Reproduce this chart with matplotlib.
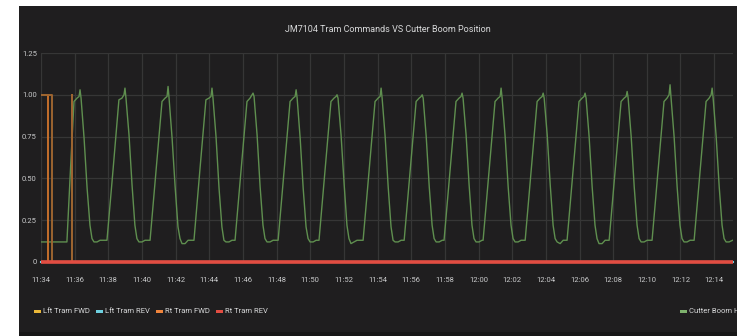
import numpy as np
import matplotlib
matplotlib.use("Agg")
import matplotlib.pyplot as plt
from matplotlib.patches import Rectangle

plt.rcParams['font.family'] = ['DejaVu Sans Condensed', 'Roboto', 'DejaVu Sans']

# time in minutes after 11:34
tick_minutes = [0, 2, 4, 6, 8, 10, 12, 14, 16, 18, 20, 22, 24, 26, 28, 30, 32, 34, 36, 38, 40]
tick_labels = ["11:34", "11:36", "11:38", "11:40", "11:42", "11:44", "11:46", "11:48", "11:50",
               "11:52", "11:54", "11:56", "11:58", "12:00", "12:02", "12:04", "12:06", "12:08",
               "12:10", "12:12", "12:14"]
y_ticks = [0, 0.25, 0.5, 0.75, 1.0, 1.25]
y_labels = ["0", "0.25", "0.50", "0.75", "1.00", "1.25"]

boom_t = [
    0.00, 0.50, 1.00, 1.54, 1.75, 1.96, 2.14, 2.26, 2.32, 2.38, 2.56, 2.74, 2.91, 3.03, 3.15, 3.33, 3.51,
    3.92, 4.28, 4.63, 4.81, 4.93, 4.99, 5.05, 5.23, 5.41, 5.58, 5.70, 5.82, 6.00, 6.18,
    6.48, 6.84, 7.19, 7.37, 7.49, 7.55, 7.61, 7.79, 7.97, 8.14, 8.26, 8.38, 8.56, 8.74,
    9.09, 9.45, 9.80, 9.98, 10.10, 10.16, 10.22, 10.40, 10.58, 10.75, 10.87, 10.99, 11.17, 11.35,
    11.53, 11.89, 12.24, 12.42, 12.54, 12.60, 12.66, 12.84, 13.02, 13.19, 13.31, 13.43, 13.61, 13.79,
    14.09, 14.45, 14.80, 14.98, 15.10, 15.16, 15.22, 15.40, 15.58, 15.75, 15.87, 15.99, 16.17, 16.35,
    16.52, 16.88, 17.23, 17.41, 17.53, 17.59, 17.65, 17.83, 18.01, 18.18, 18.30, 18.42, 18.60, 18.78,
    19.14, 19.50, 19.85, 20.03, 20.15, 20.21, 20.27, 20.45, 20.63, 20.80, 20.92, 21.04, 21.22, 21.40,
    21.58, 21.94, 22.29, 22.47, 22.59, 22.65, 22.71, 22.89, 23.07, 23.24, 23.36, 23.48, 23.66, 23.84,
    23.95, 24.31, 24.66, 24.84, 24.96, 25.02, 25.08, 25.26, 25.44, 25.61, 25.73, 25.85, 26.03, 26.21,
    26.27, 26.63, 26.98, 27.16, 27.28, 27.34, 27.40, 27.58, 27.76, 27.93, 28.05, 28.17, 28.35, 28.53,
    28.77, 29.13, 29.48, 29.66, 29.78, 29.84, 29.90, 30.08, 30.26, 30.43, 30.55, 30.67, 30.85, 31.03,
    31.26, 31.62, 31.97, 32.15, 32.27, 32.33, 32.39, 32.57, 32.75, 32.92, 33.04, 33.16, 33.34, 33.52,
    33.76, 34.12, 34.47, 34.65, 34.77, 34.83, 34.89, 35.07, 35.25, 35.42, 35.54, 35.66, 35.84, 36.02,
    36.31, 36.67, 37.02, 37.20, 37.32, 37.38, 37.44, 37.62, 37.80, 37.97, 38.09, 38.21, 38.39, 38.57,
    38.81, 39.17, 39.52, 39.70, 39.82, 39.88, 39.94, 40.12, 40.30, 40.47, 40.59, 40.71, 40.89, 41.10,
]
boom_v = [
    0.12, 0.12, 0.12, 0.12, 0.55, 0.96, 0.98, 0.99, 1.03, 0.98, 0.74, 0.44, 0.22, 0.14, 0.12, 0.12, 0.13,
    0.13, 0.55, 0.97, 0.98, 1.00, 1.04, 0.98, 0.76, 0.46, 0.22, 0.14, 0.12, 0.12, 0.13,
    0.13, 0.55, 0.96, 0.98, 0.99, 1.05, 0.98, 0.74, 0.45, 0.21, 0.14, 0.11, 0.11, 0.13,
    0.13, 0.56, 0.97, 0.98, 0.99, 1.04, 0.98, 0.75, 0.44, 0.21, 0.13, 0.12, 0.12, 0.13,
    0.13, 0.55, 0.96, 0.98, 1.00, 1.01, 0.99, 0.76, 0.45, 0.22, 0.14, 0.12, 0.12, 0.13,
    0.13, 0.55, 0.96, 0.98, 0.99, 1.03, 0.98, 0.74, 0.44, 0.21, 0.14, 0.12, 0.12, 0.13,
    0.13, 0.55, 0.96, 0.98, 0.99, 1.00, 0.98, 0.76, 0.47, 0.22, 0.14, 0.11, 0.12, 0.13,
    0.13, 0.55, 0.96, 0.98, 0.99, 1.04, 0.98, 0.75, 0.45, 0.21, 0.13, 0.12, 0.12, 0.13,
    0.13, 0.55, 0.96, 0.98, 0.99, 1.00, 0.98, 0.75, 0.45, 0.22, 0.14, 0.12, 0.12, 0.13,
    0.13, 0.55, 0.96, 0.98, 0.99, 1.01, 0.98, 0.76, 0.46, 0.22, 0.14, 0.12, 0.12, 0.13,
    0.13, 0.55, 0.96, 0.98, 0.99, 1.04, 0.98, 0.75, 0.45, 0.22, 0.14, 0.12, 0.12, 0.13,
    0.13, 0.55, 0.96, 0.98, 0.99, 1.01, 0.98, 0.76, 0.46, 0.22, 0.14, 0.12, 0.11, 0.13,
    0.13, 0.55, 0.96, 0.98, 0.99, 1.01, 0.98, 0.75, 0.45, 0.22, 0.14, 0.11, 0.11, 0.13,
    0.13, 0.55, 0.96, 0.98, 0.99, 1.02, 0.98, 0.75, 0.45, 0.22, 0.14, 0.12, 0.12, 0.13,
    0.13, 0.55, 0.96, 0.98, 1.00, 1.06, 0.98, 0.75, 0.45, 0.22, 0.14, 0.12, 0.12, 0.13,
    0.13, 0.55, 0.96, 0.98, 1.00, 1.04, 0.98, 0.75, 0.45, 0.22, 0.14, 0.12, 0.12, 0.13,
]

# tram commands (0/1)
lft_fwd_t = [0.00, 0.68, 0.68, 1.84, 1.84, 1.85, 1.85, 41.12]
lft_fwd_v = [1, 1, 0, 0, 1, 1, 0, 0]
lft_rev_t = [0.00, 41.12]
lft_rev_v = [0, 0]
rt_fwd_t = [0.00, 0.42, 0.42, 41.12]
rt_fwd_v = [1, 1, 0, 0]
rt_rev_t = [0.00, 41.12]
rt_rev_v = [0, 0]

title = "JM7104 Tram Commands VS Cutter Boom Position"
legend_left = ["Lft Tram FWD", "Lft Tram REV", "Rt Tram FWD", "Rt Tram REV"]
legend_left_colors = ["#eab839", "#6ed0e0", "#ef843c", "#e24d42"]
legend_right = "Cutter Boom Height"

W, H = 737, 336
fig = plt.figure(figsize=(W / 100, H / 100), dpi=100, facecolor="white")

# dark panel
fig.patches.append(Rectangle((19 / W, 0), 1 - 19 / W, 1 - 6 / H, transform=fig.transFigure,
                             facecolor="#1f1e1f", edgecolor="none", zorder=-10))
fig.patches.append(Rectangle((19 / W, 0), 1 - 19 / W, 4 / H, transform=fig.transFigure,
                             facecolor="#171717", edgecolor="none", zorder=-10))

ax = fig.add_axes([41 / W, (H - 262) / H, 692 / W, 209 / H])
ax.set_zorder(2)
ax.set_facecolor("none")
for s in ax.spines.values():
    s.set_visible(False)

ax.plot(boom_t, boom_v, color="#5f8f4f", lw=1.0, zorder=3)
ax.plot(lft_rev_t, lft_rev_v, color="#6ed0e0", lw=1.5, zorder=3, clip_on=False)
ax.plot(rt_fwd_t, rt_fwd_v, color="#c4702c", lw=1.4, zorder=4)
ax.plot(lft_fwd_t, lft_fwd_v, color="#9c6430", lw=1.4, zorder=4)
ax.plot(rt_rev_t, rt_rev_v, color="#e24d42", lw=2.6, zorder=6, clip_on=False,
        solid_capstyle="butt")

ax.set_xlim(0, 41.12)
ax.set_ylim(0, 1.25)
ax.set_xticks(tick_minutes)
ax.set_xticklabels(tick_labels)
ax.set_yticks(y_ticks)
ax.set_yticklabels(y_labels)
ax.tick_params(length=0, colors="#c8c9ca", labelsize=5.5)
ax.tick_params(axis="x", pad=11)
ax.tick_params(axis="y", pad=3)
ax.grid(True, color="#363636", lw=0.9, zorder=1)
ax.set_axisbelow(True)

fig.text(388 / W, 1 - 30 / H, title, color="#d8d9da", fontsize=6.5, ha="center", va="center")

# legend, laid out left to right
renderer = fig.canvas.get_renderer()
ly = 1 - 311 / H
x = 34
for name, c in zip(legend_left, legend_left_colors):
    fig.patches.append(Rectangle((x / W, ly - 1.5 / H), 7 / W, 3 / H, transform=fig.transFigure,
                                 facecolor=c, edgecolor="none"))
    t = fig.text((x + 9) / W, ly, name, color="#d8d9da", fontsize=5.5, ha="left", va="center")
    x = x + 9 + t.get_window_extent(renderer).width + 6
fig.patches.append(Rectangle((680 / W, ly - 1.5 / H), 7 / W, 3 / H, transform=fig.transFigure,
                             facecolor="#7eb26d", edgecolor="none"))
fig.text(689 / W, ly, legend_right, color="#d8d9da", fontsize=5.5, ha="left", va="center")

fig.savefig("out.png", dpi=100, facecolor="white")
